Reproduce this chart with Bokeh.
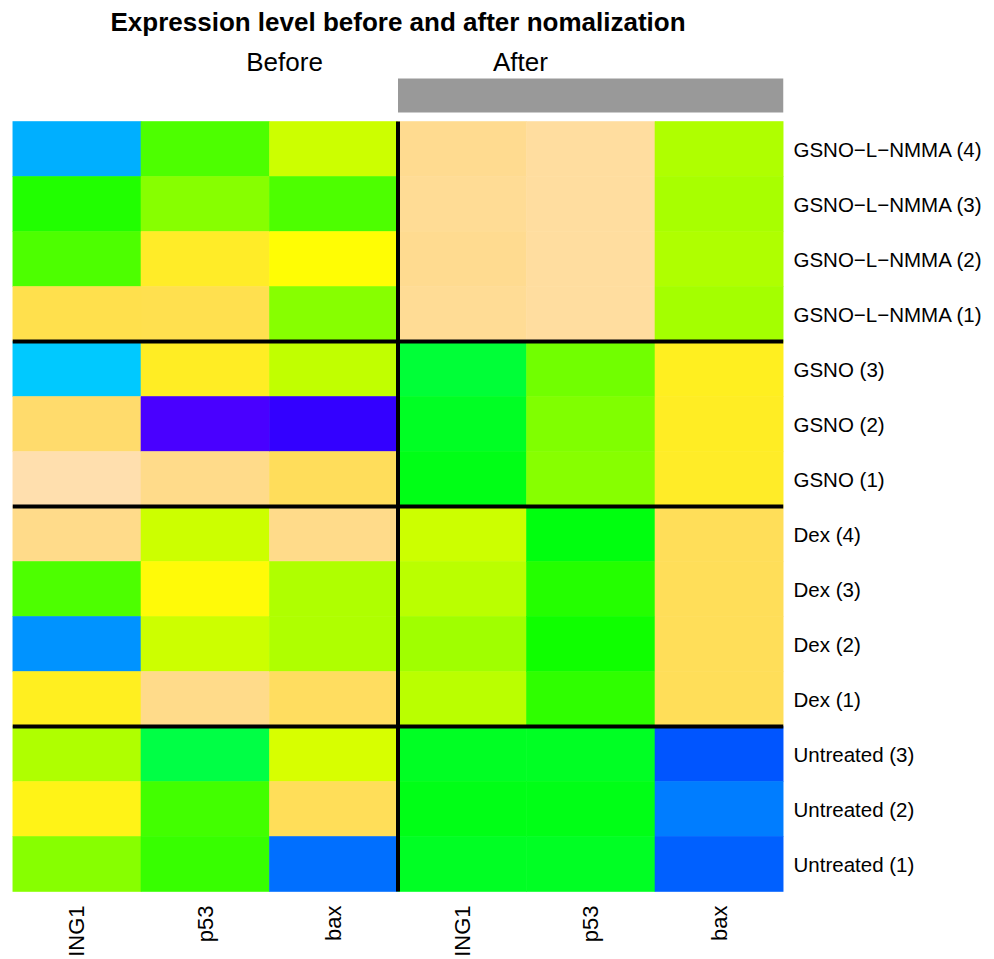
import colorsys
from bokeh.plotting import figure
from bokeh.models import ColumnDataSource, LinearColorMapper, Range1d, LinearAxis, FixedTicker
from bokeh.core.properties import value
from bokeh.embed import file_html
from bokeh.resources import INLINE

# ---------------- data ----------------
title_text = "Expression level before and after nomalization"
panels = ["Before", "After"]
genes = ["ING1", "p53", "bax"]
samples = [
    "GSNO\u2212L\u2212NMMA (4)", "GSNO\u2212L\u2212NMMA (3)", "GSNO\u2212L\u2212NMMA (2)", "GSNO\u2212L\u2212NMMA (1)",
    "GSNO (3)", "GSNO (2)", "GSNO (1)",
    "Dex (4)", "Dex (3)", "Dex (2)", "Dex (1)",
    "Untreated (3)", "Untreated (2)", "Untreated (1)",
]
groups = ["GSNO-L-NMMA"] * 4 + ["GSNO"] * 3 + ["Dex"] * 4 + ["Untreated"] * 3

# relative expression (0 = lowest, 1 = highest), rows top to bottom
before_ing1 = [0.275, 0.454, 0.502, 0.810, 0.301, 0.868, 0.990, 0.925, 0.502, 0.245, 0.730, 0.608, 0.712, 0.565]
before_p53  = [0.502, 0.565, 0.745, 0.815, 0.735, 0.005, 0.925, 0.639, 0.685, 0.639, 0.925, 0.347, 0.490, 0.480]
before_bax  = [0.639, 0.502, 0.676, 0.565, 0.626, 0.031, 0.837, 0.925, 0.608, 0.608, 0.847, 0.652, 0.835, 0.206]
after_ing1  = [0.935, 0.945, 0.935, 0.945, 0.361, 0.380, 0.398, 0.639, 0.620, 0.590, 0.620, 0.380, 0.398, 0.380]
after_p53   = [0.962, 0.962, 0.962, 0.962, 0.542, 0.556, 0.565, 0.405, 0.460, 0.435, 0.472, 0.380, 0.398, 0.380]
after_bax   = [0.608, 0.600, 0.606, 0.595, 0.730, 0.735, 0.745, 0.835, 0.835, 0.835, 0.835, 0.176, 0.222, 0.188]

columns = [before_ing1, before_p53, before_bax, after_ing1, after_p53, after_bax]
col_labels = genes + genes

# ---------------- palette (R topo.colors) ----------------
def topo_colors(n):
    j = n // 3
    k = n // 3
    i = n - j - k
    def seq(a, b, m):
        return [a + (b - a) * q / (m - 1) for q in range(m)] if m > 1 else [a]
    def hx(h, s, v):
        r, g, b = colorsys.hsv_to_rgb(h, s, v)
        return "#%02x%02x%02x" % (round(r * 255), round(g * 255), round(b * 255))
    cols = [hx(h, 1, 1) for h in seq(43 / 60, 31 / 60, i)]
    cols += [hx(h, 1, 1) for h in seq(23 / 60, 11 / 60, j)]
    cols += [hx(h, s, 1) for h, s in zip(seq(10 / 60, 6 / 60, k), seq(1, 0.3, k))]
    return cols

mapper = LinearColorMapper(palette=topo_colors(256), low=0, high=1)

nrow = len(samples)
ncol = len(columns)
xs, ys, vs = [], [], []
for c, col in enumerate(columns):
    for r, v in enumerate(col):
        xs.append(c)
        ys.append(nrow - 1 - r)
        vs.append(v)
src = ColumnDataSource(dict(x=xs, y=ys, v=vs))

# ---------------- layout (pixels) ----------------
CELL_H = 55.0
TOP_PX = 121.0
BOT_PX = 68.0
top_edge = nrow - 0.5
bot_edge = -0.5

p = figure(
    width=994, height=959,
    x_range=Range1d(-0.5, ncol - 0.5),
    y_range=Range1d(bot_edge - BOT_PX / CELL_H, top_edge + TOP_PX / CELL_H),
    x_axis_location=None, y_axis_location=None,
    toolbar_location=None, output_backend="svg",
    min_border_left=12, min_border_right=211, min_border_top=0, min_border_bottom=0,
)
p.outline_line_color = None
p.grid.visible = False

p.rect(x="x", y="y", width=1, height=1, source=src,
       fill_color={"field": "v", "transform": mapper},
       line_color={"field": "v", "transform": mapper}, line_width=0.6)

# group separators
bounds = [i for i in range(1, nrow) if groups[i] != groups[i - 1]]
hy = [top_edge - b for b in bounds]
p.segment(x0=[-0.5] * len(hy), x1=[ncol - 0.5] * len(hy), y0=hy, y1=hy,
          line_color="black", line_width=4)
p.segment(x0=[len(genes) - 0.5], x1=[len(genes) - 0.5], y0=[bot_edge], y1=[top_edge],
          line_color="black", line_width=4)

# annotation bar over "After"
p.quad(left=[len(genes) - 0.5], right=[ncol - 0.5],
       bottom=[top_edge + 9 / CELL_H], top=[top_edge + 43 / CELL_H],
       fill_color="#999999", line_color=None)

FONT = value("Liberation Sans")

# title
p.text(x=[(ncol - 1) / 2], y=[top_edge + 100 / CELL_H], text=[title_text],
       text_font=FONT, text_font_size="26px", text_font_style="bold",
       text_align="center", text_baseline="middle", text_color="black")

# panel labels
p.text(x=[1.617, 3.453], y=[top_edge + 60 / CELL_H] * 2, text=panels,
       text_font=FONT, text_font_size="26px",
       text_align="center", text_baseline="middle", text_color="black")

# column labels (rotated)
p.text(x=list(range(ncol)), y=[bot_edge - 14 / CELL_H] * ncol, text=col_labels,
       angle=1.5707963, text_font=FONT, text_font_size="22px",
       text_align="right", text_baseline="middle", text_color="black")

# row labels on right axis
raxis = LinearAxis(
    ticker=FixedTicker(ticks=list(range(nrow))),
    major_label_overrides={nrow - 1 - i: s for i, s in enumerate(samples)},
    major_tick_line_color=None, minor_tick_line_color=None, axis_line_color=None,
    major_tick_out=0, major_tick_in=0, minor_tick_out=0,
    major_label_standoff=10,
    major_label_text_font="Liberation Sans",
    major_label_text_font_size="20.5px",
    major_label_text_color="black",
)
p.add_layout(raxis, "right")

open("out.html", "w").write(file_html(p, INLINE))
